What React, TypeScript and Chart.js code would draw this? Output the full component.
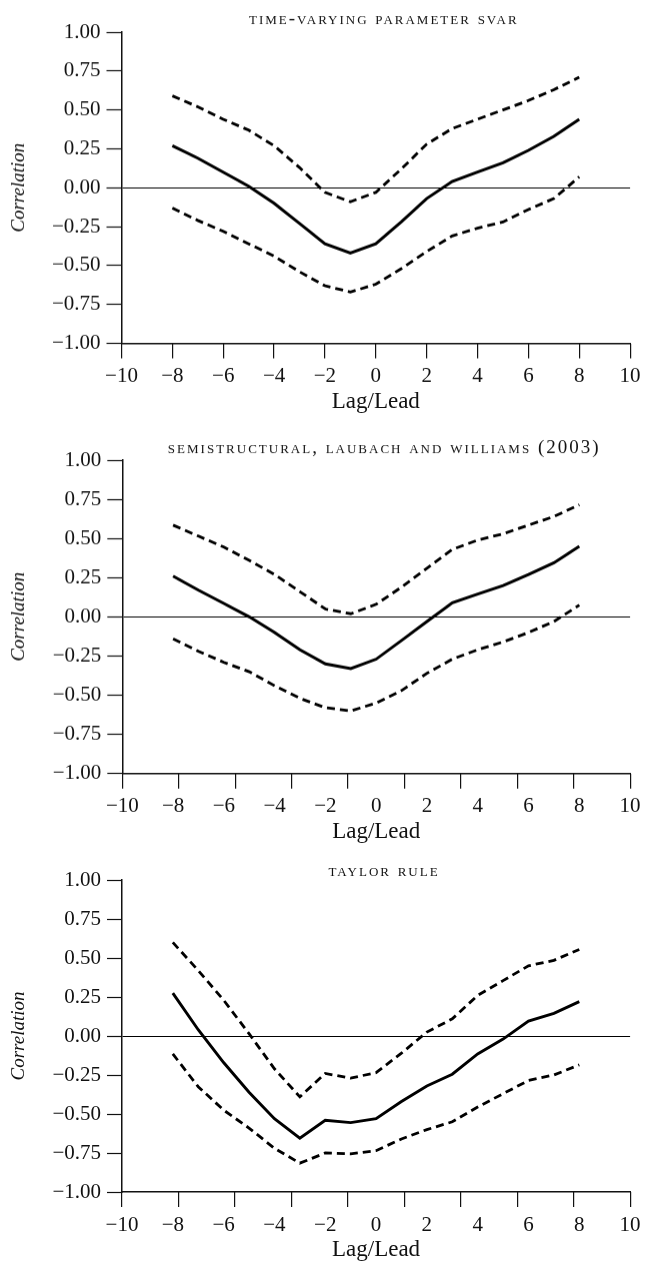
import React, { useEffect, useRef } from 'react';
import { Chart, registerables } from 'chart.js';

Chart.register(...registerables);

// ---- data ----
const LAGS = [-8, -7, -6, -5, -4, -3, -2, -1, 0, 1, 2, 3, 4, 5, 6, 7, 8];

const SVAR_MID = [0.27, 0.19, 0.1, 0.01, -0.1, -0.23, -0.36, -0.42, -0.36, -0.22, -0.07, 0.04, 0.1, 0.16, 0.24, 0.33, 0.44];
const SVAR_UP = [0.59, 0.52, 0.44, 0.37, 0.27, 0.13, -0.03, -0.09, -0.03, 0.12, 0.28, 0.38, 0.44, 0.5, 0.56, 0.63, 0.71];
const SVAR_LO = [-0.13, -0.21, -0.28, -0.36, -0.44, -0.54, -0.63, -0.67, -0.62, -0.52, -0.41, -0.31, -0.26, -0.22, -0.14, -0.07, 0.07];

const LW_MID = [0.26, 0.17, 0.085, 0.0, -0.1, -0.21, -0.3, -0.33, -0.27, -0.15, -0.03, 0.09, 0.145, 0.2, 0.27, 0.345, 0.45];
const LW_UP = [0.585, 0.515, 0.445, 0.36, 0.27, 0.16, 0.05, 0.02, 0.08, 0.19, 0.31, 0.43, 0.49, 0.53, 0.585, 0.64, 0.715];
const LW_LO = [-0.14, -0.22, -0.29, -0.35, -0.44, -0.52, -0.58, -0.6, -0.55, -0.47, -0.36, -0.27, -0.21, -0.16, -0.1, -0.03, 0.075];

const TAYLOR_MID = [0.275, 0.04, -0.17, -0.36, -0.53, -0.655, -0.54, -0.555, -0.53, -0.42, -0.32, -0.245, -0.115, -0.02, 0.095, 0.145, 0.22];
const TAYLOR_UP = [0.6, 0.42, 0.23, 0.015, -0.21, -0.39, -0.24, -0.27, -0.235, -0.11, 0.025, 0.11, 0.26, 0.355, 0.45, 0.485, 0.555];
const TAYLOR_LO = [-0.115, -0.325, -0.475, -0.59, -0.72, -0.815, -0.75, -0.755, -0.735, -0.66, -0.6, -0.55, -0.455, -0.37, -0.285, -0.25, -0.185];

const TITLES = [
  'time-varying parameter svar',
  'semistructural, laubach and williams (2003)',
  'taylor rule',
];
const Y_TITLE = 'Correlation';
const X_TITLE = 'Lag/Lead';
const X_MIN = -10;
const X_MAX = 10;
const X_STEP = 2;
const Y_MIN = -1;
const Y_MAX = 1;
const Y_STEP = 0.25;
// number of tick-mark intervals drawn along each panel's horizontal axis
const TICK_MARK_INTERVALS = [10, 9, 9];

// ---- layout (page pixels) ----
const PANELS = [
  { divTop: 0, areaTop: 32, areaBottom: 342.5, left: 121.5, right: 648, titleGap: 8 },
  { divTop: 420, areaTop: 460, areaBottom: 772.7, left: 122.3, right: 648.3, titleGap: 7 },
  { divTop: 840, areaTop: 880, areaBottom: 1192, left: 122, right: 648, titleGap: 4.5 },
];
const PAGE_W = 661;
const X_AXIS_H = 73;
const SERIF = "'Liberation Serif', 'Times New Roman', serif";
const INK = '#111';
const TICK_SIZE = 21;
const XTITLE_SIZE = 23;

const fmtMinus = (s: string) => s.replace('-', '\u2212');

type PanelProps = {
  idx: number;
  title: string;
  mid: number[];
  up: number[];
  lo: number[];
};

function Panel({ idx, title, mid, up, lo }: PanelProps) {
  const ref = useRef<HTMLCanvasElement | null>(null);
  const p = PANELS[idx];
  const height = p.areaBottom - p.divTop + X_AXIS_H;

  useEffect(() => {
    if (!ref.current) return;
    const toPts = (arr: number[]) => LAGS.map((x, i) => ({ x, y: arr[i] }));
    const dashed = {
      xAxisID: 'x',
      yAxisID: 'y',
      borderColor: '#000',
      borderWidth: 2.8,
      borderDash: [8, 5],
      pointRadius: 0,
      fill: false,
      tension: 0,
    };
    const titlePlugin = {
      id: 'panelTitle' + idx,
      afterDraw(chart: any) {
        const { ctx, chartArea } = chart;
        ctx.save();
        ctx.font = `small-caps 19px ${SERIF}`;
        try {
          (ctx as any).letterSpacing = '2px';
        } catch (e) {}
        ctx.fillStyle = INK;
        ctx.textAlign = 'center';
        ctx.textBaseline = 'alphabetic';
        ctx.fillText(title, (chartArea.left + chartArea.right) / 2 + 8, chartArea.top - p.titleGap);
        ctx.restore();
      },
    };
    const chart = new Chart(ref.current, {
      type: 'line',
      data: {
        datasets: [
          { ...dashed, data: toPts(up) },
          {
            xAxisID: 'x',
            yAxisID: 'y',
            data: toPts(mid),
            borderColor: '#000',
            borderWidth: 2.9,
            pointRadius: 0,
            fill: false,
            tension: 0,
          },
          { ...dashed, data: toPts(lo) },
        ],
      },
      options: {
        animation: false,
        responsive: true,
        maintainAspectRatio: false,
        layout: {
          padding: { top: p.areaTop - p.divTop, right: PAGE_W - p.right, left: 0, bottom: 0 },
        },
        plugins: {
          legend: { display: false },
          tooltip: { enabled: false },
          title: { display: false },
        },
        scales: {
          x: {
            type: 'linear',
            position: 'bottom',
            weight: 1,
            min: X_MIN,
            max: X_MAX,
            afterFit(s: any) {
              s.height = X_AXIS_H;
            },
            ticks: {
              stepSize: X_STEP,
              autoSkip: false,
              maxRotation: 0,
              padding: 33 - (TICK_SIZE * 1.2) / 2,
              color: INK,
              font: { family: SERIF, size: TICK_SIZE },
              callback: (v: any) => fmtMinus(String(v)),
            },
            grid: { display: false, drawTicks: false, drawOnChartArea: false },
            border: { display: true, color: INK, width: 1.5 },
            title: {
              display: true,
              text: X_TITLE,
              color: INK,
              font: { family: SERIF, size: XTITLE_SIZE },
              padding: { top: 0, bottom: X_AXIS_H - 58 - (XTITLE_SIZE * 1.2) / 2 },
            },
          },
          y: {
            type: 'linear',
            min: Y_MIN,
            max: Y_MAX,
            afterFit(s: any) {
              s.width = p.left;
            },
            ticks: {
              stepSize: Y_STEP,
              padding: 6,
              color: INK,
              font: { family: SERIF, size: TICK_SIZE },
              callback: (v: any) => fmtMinus(Number(v).toFixed(2)),
            },
            grid: {
              display: true,
              drawOnChartArea: true,
              drawTicks: true,
              tickLength: 15,
              color: (c: any) => (c.tick && c.tick.value === 0 ? '#000' : 'rgba(0,0,0,0)'),
              lineWidth: 1,
              tickColor: INK,
              tickWidth: 1.2,
            },
            border: { display: true, color: INK, width: 1.5 },
            title: {
              display: true,
              text: Y_TITLE,
              color: INK,
              font: { family: SERIF, size: 19, style: 'italic' },
              padding: { top: 7.6, bottom: 0 },
            },
          },
          xt: {
            type: 'linear',
            axis: 'x',
            position: 'bottom',
            weight: 0,
            min: 0,
            max: TICK_MARK_INTERVALS[idx],
            afterFit(s: any) {
              s.height = 0;
            },
            ticks: { display: false, stepSize: 1 },
            grid: {
              display: true,
              drawOnChartArea: false,
              drawTicks: true,
              tickLength: 15,
              color: INK,
              lineWidth: 1.2,
            },
            border: { display: false },
          },
        },
      } as any,
      plugins: [titlePlugin],
    });
    return () => chart.destroy();
  }, []);

  return (
    <div
      style={{
        position: 'absolute',
        left: 0,
        top: p.divTop,
        width: PAGE_W,
        height,
      }}
    >
      <canvas ref={ref} />
    </div>
  );
}

export default function App() {
  return (
    <div>
      <Panel idx={0} title={TITLES[0]} mid={SVAR_MID} up={SVAR_UP} lo={SVAR_LO} />
      <Panel idx={1} title={TITLES[1]} mid={LW_MID} up={LW_UP} lo={LW_LO} />
      <Panel idx={2} title={TITLES[2]} mid={TAYLOR_MID} up={TAYLOR_UP} lo={TAYLOR_LO} />
    </div>
  );
}
